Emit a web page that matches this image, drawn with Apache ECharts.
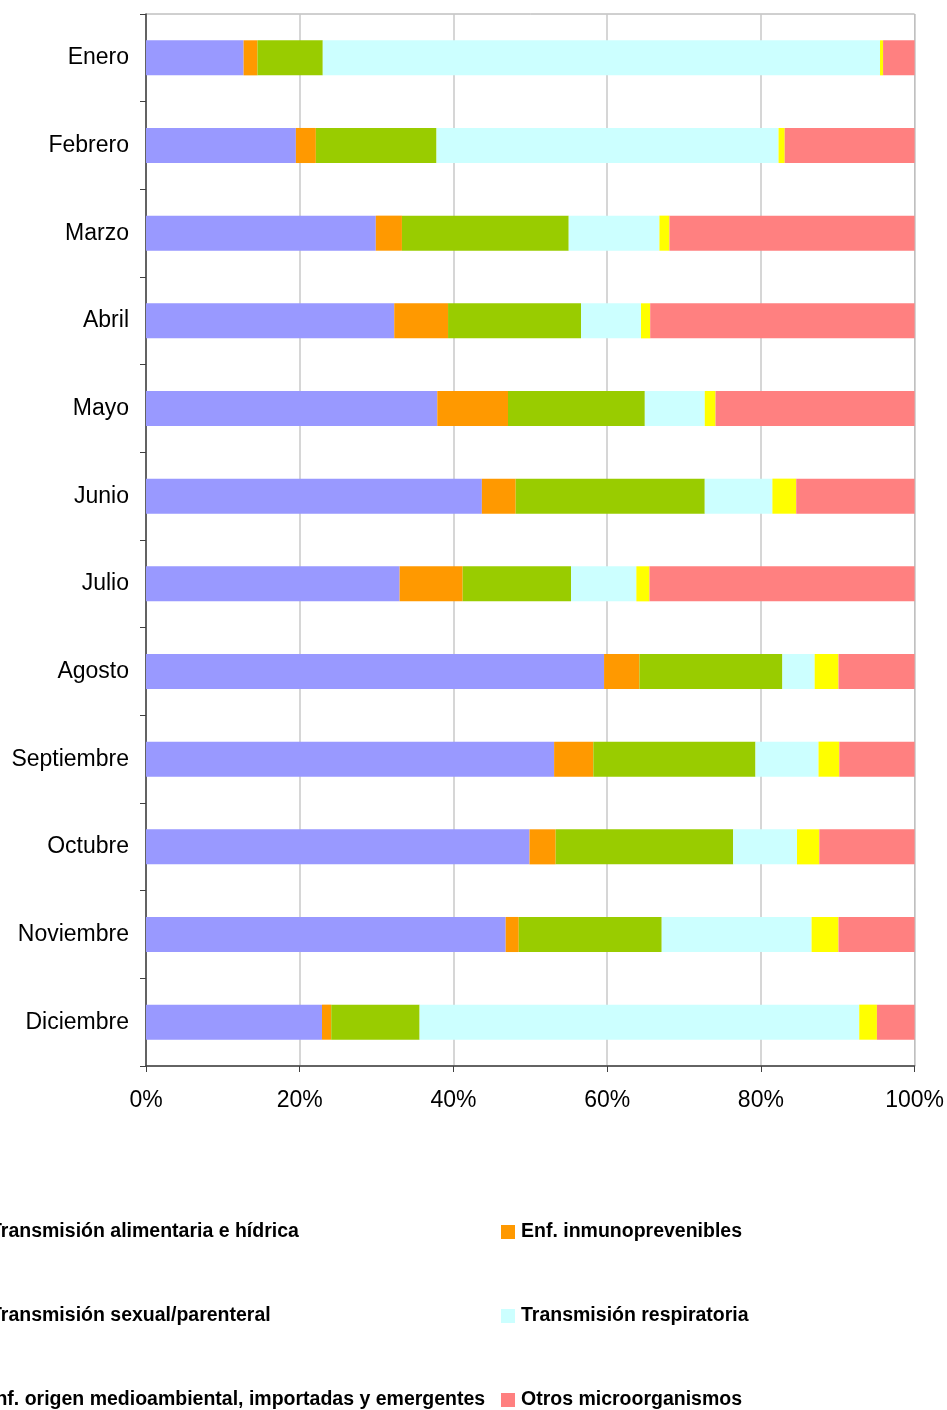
<!DOCTYPE html>
<html>
<head>
<meta charset="utf-8">
<script src="https://cdn.jsdelivr.net/npm/echarts@6/dist/echarts.min.js"></script>
<style>
  html, body { margin: 0; padding: 0; background: #fff; }
  #chart { width: 947px; height: 1410px; }
</style>
</head>
<body>
<div id="chart"></div>
<script>
// meses (de arriba a abajo)
var months = ['Enero', 'Febrero', 'Marzo', 'Abril', 'Mayo', 'Junio', 'Julio',
  'Agosto', 'Septiembre', 'Octubre', 'Noviembre', 'Diciembre'];

var seriesNames = [
  'Transmisión alimentaria e hídrica',
  'Enf. inmunoprevenibles',
  'Transmisión sexual/parenteral',
  'Transmisión respiratoria',
  'Inf. origen medioambiental, importadas y emergentes',
  'Otros microorganismos'
];

// porcentajes
var alimentaria   = [12.7, 19.5, 29.9, 32.3, 37.9, 43.7, 33.0, 59.6, 53.1, 49.9, 46.8, 22.9];
var inmunoprev    = [1.8, 2.6, 3.4, 7.0, 9.2, 4.4, 8.2, 4.6, 5.1, 3.4, 1.7, 1.2];
var sexual        = [8.5, 15.7, 21.7, 17.3, 17.8, 24.6, 14.1, 18.6, 21.1, 23.1, 18.6, 11.5];
var respiratoria  = [72.5, 44.5, 11.8, 7.8, 7.8, 8.8, 8.5, 4.2, 8.2, 8.3, 19.5, 57.2];
var medioamb      = [0.4, 0.8, 1.3, 1.2, 1.4, 3.1, 1.7, 3.1, 2.7, 2.9, 3.5, 2.3];
var otros         = [4.1, 16.9, 31.9, 34.4, 25.9, 15.4, 34.5, 9.9, 9.8, 12.4, 9.9, 4.9];

var xTicks = [0, 20, 40, 60, 80, 100];

var colors = ['#9999FF', '#FF9900', '#99CC00', '#CCFFFF', '#FFFF00', '#FF8080'];
var allData = [alimentaria, inmunoprev, sexual, respiratoria, medioamb, otros];

var chart = echarts.init(document.getElementById('chart'));

var series = allData.map(function (d, i) {
  return {
    name: seriesNames[i],
    type: 'bar',
    stack: 'total',
    barWidth: '40%',
    data: d,
    itemStyle: { color: colors[i] },
    emphasis: { disabled: true }
  };
});

// leyenda en dos columnas (izquierda cortada como en el original)
var legendPos = [
  [-30, 1222], [501, 1222],
  [-30, 1306], [501, 1306],
  [-30, 1390], [501, 1390]
];
var legends = seriesNames.map(function (name, i) {
  return {
    data: [name],
    left: legendPos[i][0], top: legendPos[i][1],
    padding: 0,
    itemWidth: 14, itemHeight: 14, itemGap: 5,
    icon: 'rect',
    textStyle: {
      fontFamily: 'Liberation Sans, Arial, sans-serif',
      fontSize: 19.5, fontWeight: 'bold', color: '#000', padding: [0, 0, 0, 1]
    },
    selectedMode: false
  };
});

chart.setOption({
  animation: false,
  grid: {
    left: 146, right: 32, top: 14, bottom: 344,
    show: true, borderColor: '#a0a0a0', borderWidth: 1
  },
  legend: legends,
  xAxis: {
    type: 'value',
    min: xTicks[0], max: xTicks[xTicks.length - 1], interval: 20,
    axisLine: { show: true, lineStyle: { color: '#404040', width: 1.5 } },
    axisTick: { show: true, length: 6, lineStyle: { color: '#404040' } },
    axisLabel: {
      formatter: '{value}%', margin: 23,
      fontFamily: 'Liberation Sans, Arial, sans-serif', fontSize: 23, color: '#000'
    },
    splitLine: { show: true, lineStyle: { color: '#c8c8c8', width: 1.5 } }
  },
  yAxis: {
    type: 'category',
    data: months,
    inverse: true,
    axisLine: { show: true, lineStyle: { color: '#404040', width: 1.5 } },
    axisTick: { show: true, length: 6, lineStyle: { color: '#404040' } },
    axisLabel: {
      margin: 17, padding: [3, 0, 0, 0],
      fontFamily: 'Liberation Sans, Arial, sans-serif', fontSize: 23, color: '#000'
    },
    splitLine: { show: false }
  },
  series: series
});
</script>
</body>
</html>
